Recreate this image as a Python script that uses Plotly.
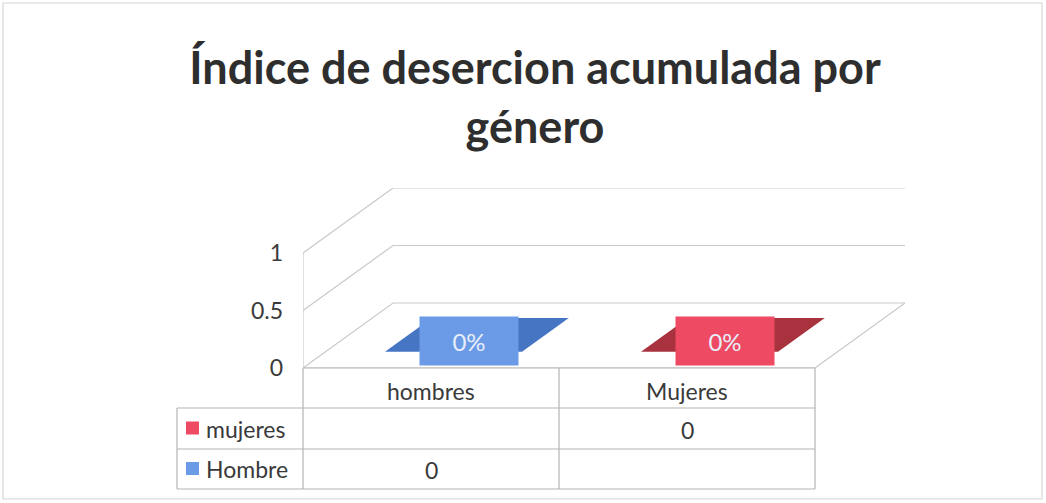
import plotly.graph_objects as go

# ---------------- data ----------------
categories = ["hombres", "Mujeres"]
series_names = ["mujeres", "Hombre"]
mujeres_values = [None, 0]
hombre_values = [0, None]
bar_labels = ["0%", "0%"]
y_tickvals = [0, 0.5, 1]
y_ticktext = ["0", "0.5", "1"]
title_text = "Índice de desercion acumulada por<br>género"

# ---------------- styling / geometry ----------------
FIG_W, FIG_H = 1046, 503
L, R, T, B = 303, 141, 188, 135
PLOT_W = FIG_W - L - R
PLOT_H = FIG_H - T - B
PX_PER_CAT = 256.0
PX_PER_UNIT = 115.0
DEPTH_PX_X, DEPTH_PX_Y = 90.0, 65.0
DX = DEPTH_PX_X / PX_PER_CAT
DY = DEPTH_PX_Y / PX_PER_UNIT
BAR_W = 137.0 / PX_PER_CAT
D_FRONT, D_BACK = 0.25, 0.77
LABEL_DEPTH = 0.42

series_colors = {"mujeres": ("#ee4a63", "#a8333f"), "Hombre": ("#6b9be6", "#4675c4")}
GRID = "#c9c9c9"
TABLE_LINE = "#b4b4b4"
TEXT = "#3a3a3a"
FONT = "Lato"
TXT_SIZE = 23

n_cat = len(categories)
X_MAX = n_cat + DX
Y_MAX = PLOT_H / PX_PER_UNIT


def px_x(px):
    return (px - L) / PLOT_W


def px_y(py):
    return (FIG_H - B - py) / PLOT_H


def data_x_to_px(x):
    return L + x / X_MAX * PLOT_W


fig = go.Figure()
shapes = []
annotations = []

# back wall gridlines + left wall diagonals
for v in y_tickvals:
    fig.add_trace(go.Scatter(x=[0, DX, X_MAX], y=[v, v + DY, v + DY], mode="lines",
                             line=dict(color=GRID, width=1.2), hoverinfo="skip", showlegend=False))
# front-left vertical edge
fig.add_trace(go.Scatter(x=[0, 0], y=[0, max(y_tickvals)], mode="lines",
                         line=dict(color=GRID, width=1.2), hoverinfo="skip", showlegend=False))
# floor front edge and right diagonal
fig.add_trace(go.Scatter(x=[0, n_cat, n_cat + DX], y=[0, 0, DY], mode="lines",
                         line=dict(color=GRID, width=1.2), hoverinfo="skip", showlegend=False))

# bars (3D boxes from values)
series_data = {"mujeres": mujeres_values, "Hombre": hombre_values}
for name in ["Hombre", "mujeres"]:
    light, dark = series_colors[name]
    for i, val in enumerate(series_data[name]):
        if val is None:
            continue
        c = i + 0.5
        x0, x1 = c - BAR_W / 2, c + BAR_W / 2
        f_dx, f_dy = D_FRONT * DX, D_FRONT * DY
        b_dx, b_dy = D_BACK * DX, D_BACK * DY
        # front face
        if val > 0:
            fig.add_trace(go.Scatter(
                x=[x0 + f_dx, x1 + f_dx, x1 + f_dx, x0 + f_dx, x0 + f_dx],
                y=[f_dy, f_dy, val + f_dy, val + f_dy, f_dy],
                fill="toself", fillcolor=light, line=dict(width=0), mode="lines",
                hoverinfo="skip", showlegend=False))
        # top face
        fig.add_trace(go.Scatter(
            x=[x0 + f_dx, x1 + f_dx, x1 + b_dx, x0 + b_dx, x0 + f_dx],
            y=[val + f_dy, val + f_dy, val + b_dy, val + b_dy, val + f_dy],
            fill="toself", fillcolor=dark, line=dict(width=0, color=dark), mode="lines",
            hoverinfo="skip", showlegend=False))
        # data label
        annotations.append(dict(
            x=c + LABEL_DEPTH * DX, y=val + LABEL_DEPTH * DY, xref="x", yref="y",
            text=bar_labels[i], showarrow=False, bgcolor=light, width=96, height=46,
            xanchor="center", yanchor="middle",
            font=dict(family=FONT, size=24, color="#e8eefa"), align="center", valign="middle"))

# ---------------- data table ----------------
row_tops = [368, 408, 449, 489]
col_left_px = 177
col_edges_px = [col_left_px] + [data_x_to_px(k) for k in range(n_cat + 1)]

shapes.append(dict(type="line", xref="paper", yref="paper", x0=px_x(col_edges_px[1]), x1=px_x(col_edges_px[-1]),
                   y0=px_y(row_tops[0]), y1=px_y(row_tops[0]), line=dict(color=TABLE_LINE, width=1.2)))
for ry in row_tops[1:]:
    shapes.append(dict(type="line", xref="paper", yref="paper", x0=px_x(col_left_px), x1=px_x(col_edges_px[-1]),
                       y0=px_y(ry), y1=px_y(ry), line=dict(color=TABLE_LINE, width=1.2)))
shapes.append(dict(type="line", xref="paper", yref="paper", x0=px_x(col_left_px), x1=px_x(col_left_px),
                   y0=px_y(row_tops[1]), y1=px_y(row_tops[-1]), line=dict(color=TABLE_LINE, width=1.2)))
for cx in col_edges_px[1:]:
    shapes.append(dict(type="line", xref="paper", yref="paper", x0=px_x(cx), x1=px_x(cx),
                       y0=px_y(row_tops[0]), y1=px_y(row_tops[-1]), line=dict(color=TABLE_LINE, width=1.2)))

# header labels
for i, cat in enumerate(categories):
    annotations.append(dict(x=px_x(data_x_to_px(i + 0.5)), y=px_y((row_tops[0] + row_tops[1]) / 2 + 3),
                            xref="paper", yref="paper", text=cat, showarrow=False,
                            xanchor="center", yanchor="middle",
                            font=dict(family=FONT, size=TXT_SIZE, color=TEXT)))
# rows
for r, name in enumerate(series_names):
    yc = (row_tops[r + 1] + row_tops[r + 2]) / 2
    light, dark = series_colors[name]
    shapes.append(dict(type="rect", xref="paper", yref="paper", x0=px_x(186), x1=px_x(199),
                       y0=px_y(yc + 6), y1=px_y(yc - 7), fillcolor=light, line=dict(width=0)))
    annotations.append(dict(x=px_x(204), y=px_y(yc), xref="paper", yref="paper", text=name,
                            showarrow=False, xanchor="left", yanchor="middle",
                            font=dict(family=FONT, size=TXT_SIZE, color=TEXT)))
    for i, val in enumerate(series_data[name]):
        if val is None:
            continue
        annotations.append(dict(x=px_x(data_x_to_px(i + 0.5)), y=px_y(yc + 1), xref="paper", yref="paper",
                                text=str(val), showarrow=False, xanchor="center", yanchor="middle",
                                font=dict(family=FONT, size=TXT_SIZE, color=TEXT)))

# outer chart border
shapes.append(dict(type="rect", xref="paper", yref="paper", x0=px_x(3), x1=px_x(1042),
                   y0=px_y(499), y1=px_y(3), line=dict(color="#d6d6d6", width=1.2)))

fig.update_layout(
    width=FIG_W, height=FIG_H,
    margin=dict(l=L, r=R, t=T, b=B),
    paper_bgcolor="white", plot_bgcolor="white",
    showlegend=False,
    title=dict(text=title_text, x=0.5 + 12 / FIG_W, xref="container", xanchor="center",
               y=1 - 84 / FIG_H, yref="container", yanchor="middle",
               font=dict(family=FONT, size=45, color="#2e2e2e", weight="bold")),
    xaxis=dict(range=[0, X_MAX], visible=False, fixedrange=True),
    yaxis=dict(range=[0, Y_MAX], tickvals=y_tickvals, ticktext=y_ticktext, showgrid=False,
               zeroline=False, showline=False, ticks="", ticklabelstandoff=19,
               tickfont=dict(family=FONT, size=TXT_SIZE, color=TEXT), fixedrange=True),
    shapes=shapes,
    annotations=annotations,
)

fig.write_html("out.html", config={"displayModeBar": False},
               post_script="document.body.style.margin='0';document.body.style.overflow='hidden';")
